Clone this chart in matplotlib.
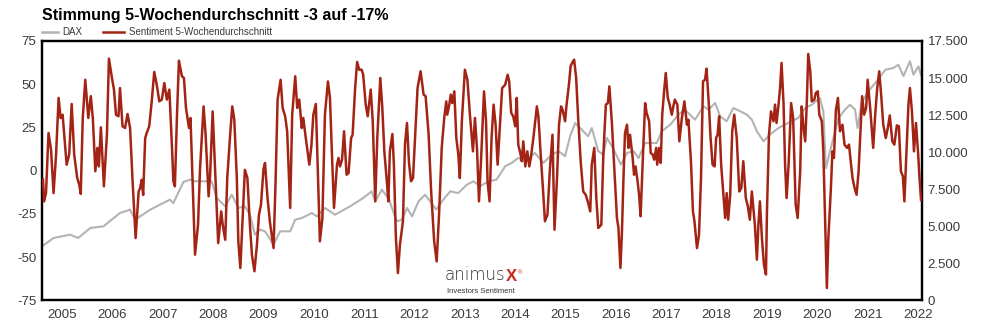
import matplotlib.pyplot as plt
from matplotlib.ticker import FuncFormatter

# Sentiment 5-Wochendurchschnitt (Zeit als Dezimaljahr, Wert in %)
sent_t = [2004.62, 2004.64, 2004.68, 2004.73, 2004.78, 2004.83, 2004.88, 2004.93, 2004.97, 2005.01,
          2005.09, 2005.14, 2005.19, 2005.24, 2005.30, 2005.34, 2005.37, 2005.41, 2005.46, 2005.52,
          2005.57, 2005.61, 2005.66, 2005.70, 2005.73, 2005.77, 2005.83, 2005.89, 2005.93, 2005.99,
          2006.03, 2006.07, 2006.12, 2006.15, 2006.20, 2006.25, 2006.30, 2006.35, 2006.40, 2006.46,
          2006.52, 2006.55, 2006.58, 2006.61, 2006.65, 2006.68, 2006.73, 2006.78, 2006.83, 2006.88,
          2006.93, 2006.98, 2007.03, 2007.08, 2007.13, 2007.18, 2007.21, 2007.24, 2007.28, 2007.32,
          2007.38, 2007.42, 2007.46, 2007.52, 2007.55, 2007.59, 2007.64, 2007.70, 2007.74, 2007.81,
          2007.85, 2007.91, 2007.94, 2007.99, 2008.02, 2008.07, 2008.10, 2008.16, 2008.19, 2008.24,
          2008.28, 2008.34, 2008.38, 2008.42, 2008.47, 2008.50, 2008.54, 2008.58, 2008.63, 2008.68,
          2008.73, 2008.77, 2008.82, 2008.87, 2008.91, 2008.95, 2009.00, 2009.03, 2009.08, 2009.13,
          2009.20, 2009.24, 2009.28, 2009.34, 2009.38, 2009.43, 2009.47, 2009.53, 2009.57, 2009.63,
          2009.67, 2009.71, 2009.76, 2009.79, 2009.84, 2009.91, 2009.95, 2009.99, 2010.04, 2010.08,
          2010.12, 2010.17, 2010.22, 2010.28, 2010.32, 2010.36, 2010.40, 2010.46, 2010.49, 2010.52,
          2010.56, 2010.60, 2010.65, 2010.69, 2010.74, 2010.77, 2010.82, 2010.86, 2010.90, 2010.95,
          2010.98, 2011.03, 2011.07, 2011.13, 2011.17, 2011.22, 2011.26, 2011.32, 2011.36, 2011.40,
          2011.45, 2011.48, 2011.51, 2011.56, 2011.59, 2011.63, 2011.67, 2011.71, 2011.77, 2011.81,
          2011.85, 2011.89, 2011.93, 2011.97, 2012.01, 2012.06, 2012.12, 2012.18, 2012.22, 2012.28,
          2012.33, 2012.39, 2012.44, 2012.49, 2012.54, 2012.59, 2012.63, 2012.65, 2012.69, 2012.72,
          2012.75, 2012.79, 2012.83, 2012.87, 2012.90, 2012.94, 2013.00, 2013.05, 2013.10, 2013.16,
          2013.20, 2013.24, 2013.28, 2013.32, 2013.38, 2013.42, 2013.45, 2013.49, 2013.53, 2013.57,
          2013.61, 2013.65, 2013.70, 2013.74, 2013.80, 2013.85, 2013.88, 2013.92, 2013.96, 2014.00,
          2014.03, 2014.06, 2014.10, 2014.13, 2014.16, 2014.20, 2014.24, 2014.28, 2014.31, 2014.36,
          2014.43, 2014.46, 2014.51, 2014.55, 2014.59, 2014.64, 2014.69, 2014.74, 2014.78, 2014.83,
          2014.87, 2014.91, 2014.94, 2014.99, 2015.02, 2015.07, 2015.10, 2015.13, 2015.17, 2015.21,
          2015.25, 2015.30, 2015.35, 2015.40, 2015.44, 2015.49, 2015.52, 2015.57, 2015.61, 2015.65,
          2015.71, 2015.75, 2015.80, 2015.84, 2015.87, 2015.92, 2015.97, 2016.02, 2016.05, 2016.09,
          2016.12, 2016.15, 2016.18, 2016.22, 2016.25, 2016.28, 2016.33, 2016.36, 2016.39, 2016.43,
          2016.46, 2016.49, 2016.53, 2016.58, 2016.61, 2016.66, 2016.69, 2016.73, 2016.76, 2016.80,
          2016.82, 2016.86, 2016.89, 2016.92, 2016.96, 2016.99, 2017.03, 2017.06, 2017.11, 2017.14,
          2017.17, 2017.22, 2017.26, 2017.31, 2017.36, 2017.41, 2017.44, 2017.49, 2017.53, 2017.56,
          2017.61, 2017.65, 2017.69, 2017.73, 2017.77, 2017.80, 2017.85, 2017.88, 2017.92, 2017.96,
          2017.99, 2018.02, 2018.05, 2018.09, 2018.13, 2018.17, 2018.20, 2018.23, 2018.27, 2018.31,
          2018.35, 2018.40, 2018.45, 2018.49, 2018.53, 2018.58, 2018.62, 2018.66, 2018.70, 2018.73,
          2018.76, 2018.80, 2018.83, 2018.86, 2018.90, 2018.94, 2018.98, 2019.00, 2019.04, 2019.08,
          2019.13, 2019.16, 2019.19, 2019.23, 2019.26, 2019.29, 2019.33, 2019.36, 2019.39, 2019.43,
          2019.48, 2019.52, 2019.57, 2019.61, 2019.66, 2019.69, 2019.72, 2019.76, 2019.79, 2019.82,
          2019.86, 2019.89, 2019.94, 2019.97, 2020.01, 2020.04, 2020.09, 2020.12, 2020.15, 2020.19,
          2020.22, 2020.27, 2020.30, 2020.33, 2020.37, 2020.41, 2020.45, 2020.50, 2020.54, 2020.59,
          2020.63, 2020.67, 2020.70, 2020.74, 2020.78, 2020.82, 2020.86, 2020.89, 2020.93, 2020.97,
          2021.00, 2021.05, 2021.08, 2021.11, 2021.15, 2021.19, 2021.23, 2021.27, 2021.31, 2021.36,
          2021.40, 2021.44, 2021.49, 2021.53, 2021.58, 2021.62, 2021.66, 2021.70, 2021.73, 2021.76,
          2021.81, 2021.84, 2021.88, 2021.92, 2021.96, 2022.00, 2022.03, 2022.06]
sent_v = [-5, -17.7, -12.9, 21.8, 12.2, -12.9, 9.3, 42.1, 30.5, 32.4,
          3.5, 9.3, 38.6, 9.3, -4.2, -8, -13.4, 30.5, 52.6, 30.5,
          43.1, 30.5, -0.3, 13.2, 2.5, 25.1, -9, 20.8, 64.8, 53.6,
          46.9, 32.4, 31.5, 47.8, 25.7, 24.7, 32.8, 24.7, -6.1, -38.9,
          -12, -10, -5.2, -14, 18.9, 21.8, 25.7, 40.1, 57.1, 49.7,
          40.1, 41.1, 50.7, 41.1, 46.9, 15.1, -6.1, -9, 30.5, 63.6,
          54.6, 53.6, 36.3, 24.7, 30.5, -4.2, -48.5, -31.2, 1.6, 37.2,
          20.8, -14.8, -2.3, 34.3, 13.2, -21.5, -41.8, -23.5, -31.2, -39.9,
          -4.2, 21.8, 37.2, 29.5, -4.2, -40.8, -56.2, -31.2, 0.5, -4.2,
          -31.2, -48.5, -58.1, -42.7, -25.4, -19.6, 0.9, 4.5, -15.8, -30.2,
          -44.7, -6.1, 41.1, 52.6, 36.3, 31.5, 22.8, -21.5, 32.4, 54.6,
          36.3, 41.1, 24.7, 30.5, 18.9, 3.5, 14.1, 32.4, 38.6, -0.3,
          -40.8, -27.3, 32.4, 51.6, 42.1, 9.3, -21.5, 3.5, 7.4, 2.5,
          6.4, 22.8, -2.3, -1.3, 18.9, 20.8, 47.8, 62.9, 58.4, 58.4,
          55.5, 38.2, 31.5, 46.9, 28.6, -17.7, 18.9, 53.6, 36.3, 11.2,
          -6.1, -17.7, 11.2, 21.2, 3.5, -38.9, -59.1, -42.7, -29.2, 15.1,
          27.6, 4.5, -6.1, -4.2, 18.9, 47.8, 57.5, 44, 43.1, 20.8,
          -12, -40.8, -52.4, -23.5, 13.2, 30.5, 40.1, 32.4, 38.2, 44,
          39.1, 45.9, 18.9, 9.3, -4.2, 28.6, 58.4, 52.6, 32.4, 11.2,
          30.5, 13.2, -17.7, 5.5, 45.9, 28.6, -6.1, -17.7, 18.9, 38.2,
          26.6, 3.5, 28.6, 47.8, 49.7, 55.5, 51.7, 33.4, 31.5, 25.7,
          42.1, 15.1, 10.3, 5.5, 17, 2.5, 11.2, 2.5, 7.4, 18.9,
          37.2, 31.5, 7.4, -10, -29.2, -25.4, 1.6, 20.8, -34.1, -4.2,
          26.6, 37.2, 35.3, 28.6, 38.2, 50.7, 60.4, 62.3, 64.2, 53.6,
          30.5, 5.5, -12, -13.9, -17.7, -23.5, 3.5, 13.2, -15.8, -33.1,
          -31.2, 9.3, 38.2, 39.1, 48.8, 27.6, -0.3, -27.3, -33.1, -56.2,
          -35, -4.2, 21.8, 26.6, 13.2, 20.8, 8.3, -2.3, 2.5, -6.1,
          -13.9, -26.3, 3.5, 39.1, 33.4, 28.6, 10.3, 9.3, 6.4, 13.2,
          3.5, 13.2, 4.5, 32.4, 46.9, 56.5, 42.1, 39.1, 32.4, 37.2,
          41.1, 38.2, 17, 30.5, 40.1, 26.6, 29.5, 5.5, -23.5, -29.2,
          -44.7, -37, -4.2, 51.7, 52.6, 59, 36.3, 18.9, 3.5, 2.5,
          18.9, 20.8, 31.5, 3.5, -12, -27.3, -12.9, -28.3, -13.9, 22.8,
          32.4, 18.9, -12, -10, 5.5, -15.8, -20.6, -28.3, -12, -21.5,
          -31.2, -51.4, -31.2, -17.7, -38.9, -54.3, -60, -23.5, 20.8, 34.3,
          28.6, 38.2, 27.6, 38.2, 47.8, 62.3, 38.2, 3.5, -15.8, 3.5,
          39.1, 30.5, -19.6, -27.3, -0.3, 37.2, 26.6, 17, 38.2, 67.5,
          57.5, 40.1, 41.1, 44.9, 45.9, 32.4, 28.6, 11.2, -23.5, -67.8,
          -38.9, -10, 11.2, 7.4, 35.3, 42.1, 22.8, 26.6, 15.1, 13.2,
          15.1, 3.5, -4.2, -10, -13.9, -0.3, 24.7, 43.1, 32.4, 36.3,
          52.6, 36.3, 24.7, 13.2, 32.4, 47.8, 57.5, 43.1, 26.6, 18.9,
          24.7, 32, 17, 15.1, 26.2, 25.7, -0.3, -3.2, -17.7, 3.5,
          38.2, 47.8, 34.3, 11.2, 27.6, 11.2, -4.2, -16.8]

# DAX (rechte Achse)
dax_t = [2004.62, 2004.83, 2005.16, 2005.32, 2005.56, 2005.82, 2006.15, 2006.35, 2006.45, 2006.75,
         2007.14, 2007.21, 2007.41, 2007.54, 2007.64, 2007.97, 2008.07, 2008.24, 2008.37, 2008.50,
         2008.63, 2008.73, 2008.83, 2008.93, 2009.03, 2009.20, 2009.33, 2009.53, 2009.63, 2009.76,
         2009.96, 2010.06, 2010.22, 2010.42, 2010.72, 2010.98, 2011.15, 2011.22, 2011.35, 2011.48,
         2011.65, 2011.75, 2011.85, 2011.95, 2012.08, 2012.21, 2012.31, 2012.43, 2012.57, 2012.71,
         2012.87, 2013.04, 2013.17, 2013.30, 2013.47, 2013.63, 2013.80, 2013.93, 2014.06, 2014.20,
         2014.39, 2014.56, 2014.73, 2014.86, 2014.99, 2015.09, 2015.19, 2015.32, 2015.45, 2015.52,
         2015.65, 2015.75, 2015.82, 2015.92, 2016.02, 2016.10, 2016.22, 2016.35, 2016.45, 2016.58,
         2016.81, 2016.91, 2017.08, 2017.24, 2017.37, 2017.47, 2017.57, 2017.74, 2017.84, 2017.97,
         2018.07, 2018.20, 2018.33, 2018.47, 2018.60, 2018.70, 2018.80, 2018.93, 2019.06, 2019.10,
         2019.23, 2019.36, 2019.49, 2019.62, 2019.76, 2019.89, 2020.05, 2020.12, 2020.17, 2020.22,
         2020.32, 2020.42, 2020.55, 2020.65, 2020.75, 2020.80, 2020.88, 2021.01, 2021.18, 2021.35,
         2021.51, 2021.61, 2021.71, 2021.84, 2021.91, 2022.01, 2022.06]
dax_v = [3700, 4215, 4440, 4215, 4890, 5000, 5900, 6125, 5450, 6125,
         6800, 6575, 7990, 8150, 8040, 8040, 6910, 6350, 7135, 6240,
         6350, 5785, 4440, 4775, 4665, 3765, 4665, 4665, 5450, 5560,
         5900, 5670, 6240, 5785, 6350, 6910, 7360, 6690, 7470, 6910,
         5335, 5450, 6240, 5670, 6690, 7135, 6690, 6130, 6800, 7360,
         7245, 7810, 8040, 7700, 8040, 8150, 9050, 9280, 9610, 9390,
         9950, 9280, 9840, 10065, 9730, 11075, 11970, 11520, 11075, 11630,
         10065, 9840, 10960, 10400, 9730, 9160, 9950, 10065, 9610, 10620,
         10620, 11410, 11860, 12530, 12870, 12530, 12195, 13095, 12870, 13320,
         12420, 12080, 12980, 12760, 12530, 12195, 11410, 10740, 11185, 11300,
         11630, 11860, 12080, 12300, 12980, 13200, 13650, 12760, 8930, 9610,
         10960, 12300, 12870, 13200, 12870, 11630, 13320, 14100, 14780, 15560,
         15680, 15900, 15130, 16130, 15230, 15790, 15190]

years = list(range(2005, 2023))
left_ticks = [-75, -50, -25, 0, 25, 50, 75]
right_ticks = [0, 2500, 5000, 7500, 10000, 12500, 15000, 17500]

RED = '#a32414'
GREY = '#b3b3b3'
TXT = '#3a3a3a'

plt.rcParams['font.family'] = ['Liberation Sans', 'DejaVu Sans']
plt.rcParams['axes.unicode_minus'] = False

fig = plt.figure(figsize=(9.97, 3.34), dpi=100)
ax = fig.add_axes([0.0421, 0.1003, 0.8827, 0.7770])
ax2 = ax.twinx()

ax2.plot(dax_t, dax_v, color=GREY, lw=1.5, zorder=1)
ax.plot(sent_t, sent_v, color=RED, lw=1.8, zorder=3)

# Sentiment-Linie vor die DAX-Linie legen
ax.set_zorder(ax2.get_zorder() + 1)
ax.patch.set_visible(False)

ax.set_xlim(2004.60, 2022.08)
ax.set_ylim(-75, 75)
ax2.set_ylim(0, 17500)
ax.set_xticks(years)
ax.set_yticks(left_ticks)
ax2.set_yticks(right_ticks)
ax2.yaxis.set_major_formatter(FuncFormatter(lambda v, p: f"{int(v):,}".replace(",", ".")))

for a in (ax, ax2):
    a.tick_params(length=0, labelsize=9.5, colors=TXT, pad=4)
    for s in a.spines.values():
        s.set_linewidth(1.6)
        s.set_color('black')
ax.tick_params(axis='x', pad=6)

fig.text(0.0421, 0.955, "Stimmung 5-Wochendurchschnitt -3 auf -17%",
         fontsize=11.5, fontweight='bold', ha='left', va='center', color='black')

# Legende
fig.lines.append(plt.Line2D([0.0421, 0.058], [0.905, 0.905], transform=fig.transFigure,
                            color=GREY, lw=1.8))
fig.text(0.0625, 0.905, "DAX", fontsize=7, color=TXT, ha='left', va='center')
fig.lines.append(plt.Line2D([0.103, 0.124], [0.905, 0.905], transform=fig.transFigure,
                            color=RED, lw=1.8))
fig.text(0.129, 0.905, "Sentiment 5-Wochendurchschnitt", fontsize=7, color=TXT,
         ha='left', va='center')

# Logo
logo = fig.text(0.446, 0.150, "animus", fontsize=12, color='#333333', ha='left',
                va='bottom', family='DejaVu Sans', fontweight='light')
xmark = fig.text(0, 0, "X", fontsize=12, color='#c8281a', ha='left', va='bottom',
                 fontweight='bold')
fig.canvas.draw()
bb = logo.get_window_extent().transformed(fig.transFigure.inverted())
xmark.set_position((bb.x1 + 0.0005, 0.150))
fig.canvas.draw()
bx = xmark.get_window_extent().transformed(fig.transFigure.inverted())
fig.text(bx.x1 + 0.001, 0.178, "®", fontsize=4.5, color='#c8281a', ha='left', va='baseline')
fig.text(0.4485, 0.124, "Investors Sentiment", fontsize=5.5, color='#333333', ha='left',
         va='baseline')

fig.savefig('out.png', dpi=100)
